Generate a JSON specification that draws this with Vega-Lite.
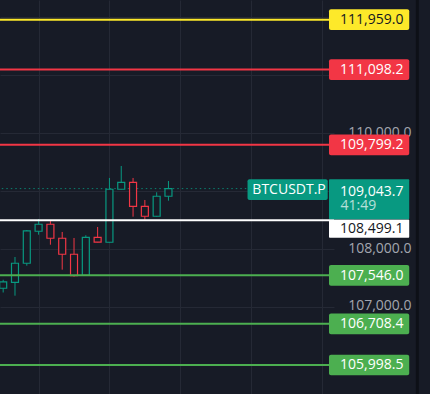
{
  "$schema": "https://vega.github.io/schema/vega-lite/v6.json",
  "width": 334,
  "height": 394,
  "autosize": {"type": "none"},
  "padding": {"left": 0, "top": 0, "right": 96, "bottom": 0},
  "background": "#171b26",
  "config": {"view": {"stroke": null, "fill": "#171b26"}},
  "datasets": {
    "candles": [
      {"t": 1, "open": 107323, "high": 107470, "low": 107250, "close": 107432},
      {"t": 2, "open": 107426, "high": 107863, "low": 107195, "close": 107755},
      {"t": 3, "open": 107755, "high": 108329, "low": 107713, "close": 108312},
      {"t": 4, "open": 108307, "high": 108519, "low": 108248, "close": 108428},
      {"t": 5, "open": 108428, "high": 108485, "low": 108075, "close": 108186},
      {"t": 6, "open": 108186, "high": 108295, "low": 107644, "close": 107910},
      {"t": 7, "open": 107910, "high": 108191, "low": 107523, "close": 107540},
      {"t": 8, "open": 107547, "high": 108238, "low": 107540, "close": 108203},
      {"t": 9, "open": 108203, "high": 108381, "low": 108117, "close": 108120},
      {"t": 10, "open": 108117, "high": 109227, "low": 108110, "close": 109032},
      {"t": 11, "open": 109032, "high": 109434, "low": 109030, "close": 109152},
      {"t": 12, "open": 109152, "high": 109227, "low": 108559, "close": 108738},
      {"t": 13, "open": 108738, "high": 108847, "low": 108507, "close": 108566},
      {"t": 14, "open": 108566, "high": 108980, "low": 108560, "close": 108911},
      {"t": 15, "open": 108911, "high": 109175, "low": 108835, "close": 109043.7}
    ],
    "levels": [
      {"price": 111959.0, "kind": "yellow"},
      {"price": 111098.2, "kind": "red"},
      {"price": 109799.2, "kind": "red"},
      {"price": 107546.0, "kind": "green"},
      {"price": 106708.4, "kind": "green"},
      {"price": 105998.5, "kind": "green"},
      {"price": 108499.1, "kind": "white"}
    ],
    "current": [
      {"price": 109043.7, "symbol": "BTCUSDT.P", "countdown": "41:49"}
    ]
  },
  "layer": [
    {
      "data": {"name": "current"},
      "mark": {"type": "rule", "color": "#089981", "strokeWidth": 1, "strokeDash": [1.5, 3], "opacity": 0.8},
      "encoding": {
        "x": {"datum": 0.5, "type": "quantitative", "scale": {"domain": [1.1537, 28.598], "nice": false, "zero": false},
          "axis": {"orient": "bottom", "values": [4, 10, 16, 22, 28], "labels": false, "ticks": false, "domain": false, "grid": true, "gridColor": "#252935", "gridWidth": 1, "title": null}},
        "x2": {"datum": 21.7},
        "y": {"field": "price", "type": "quantitative",
          "scale": {"domain": [105497.8, 112299.1], "nice": false, "zero": false},
          "axis": {"orient": "right", "values": [106000, 107000, 108000, 109000, 110000, 111000, 112000], "format": ",.1f", "labelExpr": "datum.value == 107000 || datum.value == 108000 || datum.value == 110000 ? datum.label : ''", "grid": true, "gridColor": "#252935", "gridWidth": 1, "domain": false, "ticks": false, "labelAlign": "right", "labelPadding": 77, "labelColor": "#a3a6af", "labelFont": "Open Sans", "labelFontSize": 14, "labelOffset": -1, "title": null}}
      }
    },
    {
      "data": {"name": "candles"},
      "mark": {"type": "rule", "strokeWidth": 1},
      "encoding": {
        "x": {"field": "t", "type": "quantitative"},
        "y": {"field": "low", "type": "quantitative"},
        "y2": {"field": "high"},
        "color": {"condition": {"test": "datum.close >= datum.open", "value": "#089981"}, "value": "#f23645"}
      }
    },
    {
      "data": {"name": "candles"},
      "mark": {"type": "bar", "width": 7, "fill": "#171b26", "strokeWidth": 1.2},
      "encoding": {
        "x": {"field": "t", "type": "quantitative"},
        "y": {"field": "open", "type": "quantitative"},
        "y2": {"field": "close"},
        "stroke": {"condition": {"test": "datum.close >= datum.open", "value": "#089981"}, "value": "#f23645"}
      }
    },
    {
      "data": {"name": "levels"},
      "mark": {"type": "rule", "strokeWidth": 2},
      "encoding": {
        "y": {"field": "price", "type": "quantitative"},
        "color": {"field": "kind", "type": "nominal", "scale": {"domain": ["yellow", "red", "green", "white"], "range": ["#fde92a", "#f23645", "#4caf50", "#ffffff"]}, "legend": null}
      }
    },
    {
      "data": {"name": "levels"},
      "transform": [{"filter": "datum.kind != 'white'"}],
      "mark": {"type": "rect", "yOffset": -10.35, "y2Offset": 10.35, "cornerRadius": 2},
      "encoding": {
        "x": {"datum": 28.598},
        "x2": {"datum": 35.394},
        "y": {"field": "price", "type": "quantitative"},
        "y2": {"field": "price"},
        "color": {"field": "kind", "type": "nominal", "legend": null}
      }
    },
    {
      "data": {"name": "levels"},
      "transform": [{"filter": "datum.kind == 'white'"}],
      "mark": {"type": "rect", "yOffset": -0.6, "y2Offset": 17.7, "cornerRadius": 1},
      "encoding": {
        "x": {"datum": 28.598},
        "x2": {"datum": 35.394},
        "y": {"field": "price", "type": "quantitative"},
        "y2": {"field": "price"},
        "color": {"field": "kind", "type": "nominal", "legend": null}
      }
    },
    {
      "data": {"name": "levels"},
      "transform": [{"filter": "datum.kind != 'white'"}],
      "mark": {"type": "text", "align": "right", "baseline": "middle", "font": "Open Sans", "fontSize": 14, "dy": 0.5},
      "encoding": {
        "x": {"datum": 34.9},
        "y": {"field": "price", "type": "quantitative"},
        "text": {"field": "price", "type": "quantitative", "format": ",.1f"},
        "color": {"condition": {"test": "datum.kind == 'yellow'", "value": "#131722"}, "value": "#ffffff"}
      }
    },
    {
      "data": {"name": "levels"},
      "transform": [{"filter": "datum.kind == 'white'"}],
      "mark": {"type": "text", "align": "right", "baseline": "middle", "font": "Open Sans", "fontSize": 14, "dy": 9.2, "color": "#131722"},
      "encoding": {
        "x": {"datum": 34.9},
        "y": {"field": "price", "type": "quantitative"},
        "text": {"field": "price", "type": "quantitative", "format": ",.1f"}
      }
    },
    {
      "data": {"name": "current"},
      "mark": {"type": "rect", "color": "#089981", "yOffset": -9.3, "y2Offset": 11.4, "cornerRadius": 2},
      "encoding": {
        "x": {"datum": 21.697},
        "x2": {"datum": 28.49},
        "y": {"field": "price", "type": "quantitative"},
        "y2": {"field": "price"}
      }
    },
    {
      "data": {"name": "current"},
      "mark": {"type": "rect", "color": "#089981", "yOffset": -9.3, "y2Offset": 30.7, "cornerRadius": 1},
      "encoding": {
        "x": {"datum": 28.598},
        "x2": {"datum": 35.394},
        "y": {"field": "price", "type": "quantitative"},
        "y2": {"field": "price"}
      }
    },
    {
      "data": {"name": "current"},
      "mark": {"type": "text", "align": "left", "baseline": "middle", "font": "Open Sans", "fontSize": 14, "dy": 1, "color": "#ffffff"},
      "encoding": {
        "x": {"datum": 22.107},
        "y": {"field": "price", "type": "quantitative"},
        "text": {"field": "symbol"}
      }
    },
    {
      "data": {"name": "current"},
      "mark": {"type": "text", "align": "right", "baseline": "middle", "font": "Open Sans", "fontSize": 14, "dy": 3.4, "color": "#ffffff"},
      "encoding": {
        "x": {"datum": 34.9},
        "y": {"field": "price", "type": "quantitative"},
        "text": {"field": "price", "type": "quantitative", "format": ",.1f"}
      }
    },
    {
      "data": {"name": "current"},
      "mark": {"type": "text", "align": "left", "baseline": "middle", "font": "Open Sans", "fontSize": 14, "dy": 17.4, "color": "#ffffff", "opacity": 0.7},
      "encoding": {
        "x": {"datum": 29.58},
        "y": {"field": "price", "type": "quantitative"},
        "text": {"field": "countdown"}
      }
    },
    {
      "data": {"name": "current"},
      "mark": {"type": "rule", "color": "#0d1017", "strokeWidth": 3},
      "encoding": {
        "x": {"datum": 36.08}
      }
    }
  ]
}
